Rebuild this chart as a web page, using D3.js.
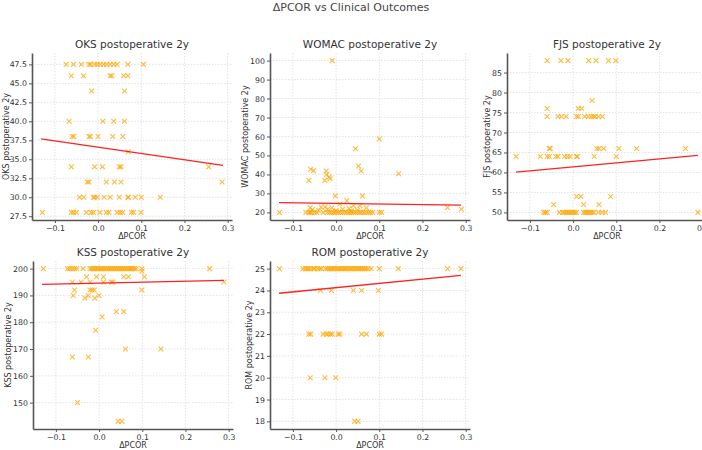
<!DOCTYPE html>
<html>
<head>
<meta charset="utf-8">
<script src="https://cdn.jsdelivr.net/npm/d3@7"></script>
<style>
  body { margin: 0; background: #fff; overflow: hidden; }
  text { font-family: "DejaVu Sans", sans-serif; }
</style>
</head>
<body>
<svg id="chart" width="702" height="450"></svg>
<script>
// each row: [outcome value, [ΔPCOR values]]
var oksRows = [
  [47.5, [-0.074, -0.057, -0.039, -0.021, -0.017, -0.008, -0.002, 0.005, 0.013, 0.020, 0.028, 0.036, 0.044, 0.069, 0.105]],
  [46.0, [-0.062, -0.034, 0.028, 0.032, 0.059, 0.069]],
  [44.0, [-0.015, 0.061]],
  [40.0, [-0.067, 0.011, 0.036, 0.061]],
  [38.0, [-0.060, -0.056, -0.021, -0.018, 0.0, 0.034, 0.057]],
  [36.0, [0.070]],
  [34.0, [-0.062, -0.008, 0.010, 0.049, 0.053, 0.256]],
  [32.0, [-0.025, -0.021, 0.019, 0.038, 0.053, 0.287]],
  [30.0, [-0.043, -0.033, -0.011, -0.008, -0.002, 0.014, 0.028, 0.049, 0.069, 0.070, 0.086, 0.100, 0.144]],
  [28.0, [-0.129, -0.062, -0.057, -0.050, -0.027, -0.016, -0.011, 0.004, 0.019, 0.025, 0.044, 0.051, 0.057, 0.077, 0.082, 0.099]]
];

var womacRows = [
  [100, [-0.009]],
  [58.7, [0.100]],
  [53.6, [0.045]],
  [44.4, [0.052]],
  [42.7, [-0.059]],
  [42.0, [-0.052]],
  [41.8, [0.058, -0.023]],
  [40.4, [0.145]],
  [40.0, [-0.022]],
  [38.7, [-0.016]],
  [37.8, [-0.014]],
  [36.9, [-0.063, -0.026]],
  [28.7, [-0.002, 0.061]],
  [26.1, [0.025]],
  [24.4, [0.009]],
  [23.5, [0.040, 0.055]],
  [23.0, [-0.025]],
  [22.8, [-0.035]],
  [22.6, [0.258]],
  [22.5, [-0.060, -0.010, 0.070]],
  [22.0, [0.030]],
  [21.7, [0.290, 0.015]],
  [21.5, [-0.020, -0.055]],
  [21.2, [0.050]],
  [21.0, [-0.040, 0.0]],
  [20.8, [0.035]],
  [20.0, [-0.131, -0.070, -0.063, -0.060, -0.057, -0.050, -0.045, -0.030, -0.020, -0.015, -0.010, -0.005, 0.0, 0.005, 0.010,
          0.015, 0.020, 0.025, 0.030, 0.035, 0.040, 0.045, 0.050, 0.055, 0.060, 0.065, 0.070, 0.075, 0.080, 0.085, 0.100, 0.105]]
];

var fjsRows = [
  [88, [-0.060, -0.028, -0.012, 0.036, 0.053, 0.082, 0.099]],
  [78, [0.044]],
  [76, [-0.060, 0.012, 0.020]],
  [74, [-0.060, -0.035, -0.027, -0.016, 0.008, 0.012, 0.027, 0.035, 0.042, 0.047, 0.051, 0.059, 0.068]],
  [66, [-0.055, -0.053, 0.055, 0.060, 0.071, 0.106, 0.147, 0.260]],
  [64, [-0.132, -0.076, -0.060, -0.055, -0.040, -0.035, -0.020, -0.013, -0.007, 0.008, 0.010, 0.049, 0.100]],
  [54, [0.008, 0.018, 0.087]],
  [52, [-0.045, 0.024, 0.060]],
  [50, [-0.068, -0.064, -0.060, -0.032, -0.024, -0.020, -0.016, -0.012, -0.008, -0.004, 0.0, 0.004, 0.008,
        0.024, 0.028, 0.032, 0.036, 0.040, 0.044, 0.048, 0.059, 0.067, 0.075, 0.289]]
];

var kssRows = [
  [200, [-0.129, -0.073, -0.068, -0.062, -0.057, -0.052, -0.037, -0.021, -0.017, -0.013, -0.010, -0.006, -0.002, 0.002,
         0.005, 0.009, 0.013, 0.017, 0.021, 0.025, 0.028, 0.032, 0.036, 0.040, 0.044, 0.048, 0.051, 0.055, 0.059,
         0.063, 0.067, 0.071, 0.074, 0.078, 0.082, 0.086, 0.099, 0.256]],
  [199, [0.099]],
  [197, [-0.029, -0.006, 0.010, 0.057, 0.068, 0.105]],
  [195, [-0.062, -0.042, -0.021, 0.010, 0.028, 0.032, 0.289]],
  [192, [-0.057, -0.021, -0.016, -0.011, 0.099]],
  [190, [-0.060, -0.025, 0.0]],
  [189, [-0.033, -0.010]],
  [184, [0.040, 0.057]],
  [182, [0.007]],
  [177, [-0.008]],
  [170, [0.061, 0.143]],
  [167, [-0.062, -0.025]],
  [150, [-0.050]],
  [143, [0.044, 0.053]]
];

var romRows = [
  [25, [-0.131, -0.077, -0.071, -0.067, -0.064, -0.059, -0.053, -0.050, -0.043, -0.038, -0.034, -0.024, -0.020,
        -0.016, -0.012, -0.009, -0.005, -0.001, 0.003, 0.007, 0.011, 0.015, 0.019, 0.022, 0.026, 0.030, 0.034,
        0.038, 0.042, 0.046, 0.050, 0.053, 0.057, 0.061, 0.065, 0.069, 0.074, 0.081, 0.100, 0.144, 0.258, 0.289]],
  [24, [-0.036, -0.011, 0.040, 0.059, 0.098]],
  [22, [-0.063, -0.059, -0.030, -0.023, -0.019, -0.013, -0.009, 0.005, 0.009, 0.059, 0.070, 0.100, 0.105]],
  [20, [-0.060, -0.026, -0.001]],
  [18, [0.043, 0.051]]
];

// fitted line: [intercept, slope]
var oksFit = [36.6, -8.3];
var womacFit = [24.76, -3.3];
var fjsFit = [61.4, 10.0];
var kssFit = [194.6, 3.6];
var romFit = [24.13, 1.95];

var xTicks = [-0.1, 0.0, 0.1, 0.2, 0.3];
var xRange = [-0.132, 0.289];

var panels = [
  { name: "OKS", rows: oksRows, fit: oksFit, yDomain: [27, 49], yTicks: [27.5, 30, 32.5, 35, 37.5, 40, 42.5, 45, 47.5], fmt: ".1f", left: 32, top: 53, bottom: 220, ylabX: 9 },
  { name: "WOMAC", rows: womacRows, fit: womacFit, yDomain: [16, 104], yTicks: [20, 30, 40, 50, 60, 70, 80, 90, 100], fmt: "d", left: 270, top: 53, bottom: 220, ylabX: 248 },
  { name: "FJS", rows: fjsRows, fit: fjsFit, yDomain: [48.1, 89.9], yTicks: [50, 55, 60, 65, 70, 75, 80, 85], fmt: "d", left: 507, top: 53, bottom: 220, ylabX: 490 },
  { name: "KSS", rows: kssRows, fit: kssFit, yDomain: [140.15, 202.85], yTicks: [150, 160, 170, 180, 190, 200], fmt: "d", left: 33, top: 261, bottom: 429, ylabX: 11 },
  { name: "ROM", rows: romRows, fit: romFit, yDomain: [17.65, 25.35], yTicks: [18, 19, 20, 21, 22, 23, 24, 25], fmt: "d", left: 270, top: 261, bottom: 429, ylabX: 252 }
];

var svg = d3.select("#chart"),
    plotWidth = 200;

svg.append("text")
    .attr("x", 351)
    .attr("y", 11)
    .attr("text-anchor", "middle")
    .attr("font-size", 11)
    .attr("fill", "#444")
    .text("ΔPCOR vs Clinical Outcomes");

panels.forEach(function(p) {
    var h = p.bottom - p.top;
    var x = d3.scaleLinear().domain([-0.153, 0.31]).range([0, plotWidth]);
    var y = d3.scaleLinear().domain(p.yDomain).range([h, 0]);

    var g = svg.append("g")
        .attr("transform", "translate(" + p.left + "," + p.top + ")");

    // grid
    g.append("g").selectAll("line").data(xTicks).enter().append("line")
        .attr("x1", function(d) { return x(d); })
        .attr("x2", function(d) { return x(d); })
        .attr("y1", 0).attr("y2", h)
        .attr("stroke", "#dcdcdc").attr("stroke-width", 0.8).attr("stroke-dasharray", "1.5,1.5");
    g.append("g").selectAll("line").data(p.yTicks).enter().append("line")
        .attr("y1", function(d) { return y(d); })
        .attr("y2", function(d) { return y(d); })
        .attr("x1", 0).attr("x2", plotWidth)
        .attr("stroke", "#dcdcdc").attr("stroke-width", 0.8).attr("stroke-dasharray", "1.5,1.5");

    // points
    var pts = [];
    p.rows.forEach(function(r) {
        r[1].forEach(function(v) { pts.push([v, r[0]]); });
    });
    var s = 2.4;
    g.append("g").selectAll("path").data(pts).enter().append("path")
        .attr("d", function(d) {
            var cx = x(d[0]), cy = y(d[1]);
            return "M" + (cx - s) + "," + (cy - s) + "L" + (cx + s) + "," + (cy + s) +
                   "M" + (cx - s) + "," + (cy + s) + "L" + (cx + s) + "," + (cy - s);
        })
        .attr("stroke", "#ffa500")
        .attr("stroke-opacity", 0.75)
        .attr("stroke-width", 1.1)
        .attr("fill", "none");

    // fit line
    var line = d3.line()
        .x(function(d) { return x(d); })
        .y(function(d) { return y(p.fit[0] + p.fit[1] * d); });
    g.append("path")
        .datum(xRange)
        .attr("d", line)
        .attr("stroke", "#ff2020")
        .attr("stroke-width", 1.3)
        .attr("fill", "none");

    // axes
    var xa = g.append("g")
        .attr("transform", "translate(0," + h + ")")
        .call(d3.axisBottom(x).tickValues(xTicks).tickFormat(d3.format(".1f")).tickSize(3).tickPadding(2).tickSizeOuter(0));
    var ya = g.append("g")
        .call(d3.axisLeft(y).tickValues(p.yTicks).tickFormat(d3.format(p.fmt)).tickSize(3).tickPadding(2).tickSizeOuter(0));
    [xa, ya].forEach(function(a) {
        a.select(".domain").attr("stroke", "#555").attr("stroke-width", 1.6);
        a.selectAll(".tick line").attr("stroke", "#555");
        a.selectAll(".tick text").attr("fill", "#333").attr("font-size", 7.8)
            .attr("font-family", "DejaVu Sans, sans-serif");
    });

    // titles and labels
    g.append("text")
        .attr("x", plotWidth / 2)
        .attr("y", -5)
        .attr("text-anchor", "middle")
        .attr("font-size", 10.5)
        .attr("fill", "#333")
        .text(p.name + " postoperative 2y");

    g.append("text")
        .attr("x", plotWidth / 2)
        .attr("y", h + 19)
        .attr("text-anchor", "middle")
        .attr("font-size", 8)
        .attr("fill", "#333")
        .text("ΔPCOR");

    svg.append("text")
        .attr("transform", "translate(" + p.ylabX + "," + (p.top + h / 2) + ") rotate(-90)")
        .attr("text-anchor", "middle")
        .attr("font-size", 8)
        .attr("fill", "#333")
        .text(p.name + " postoperative 2y");
});
</script>
</body>
</html>
